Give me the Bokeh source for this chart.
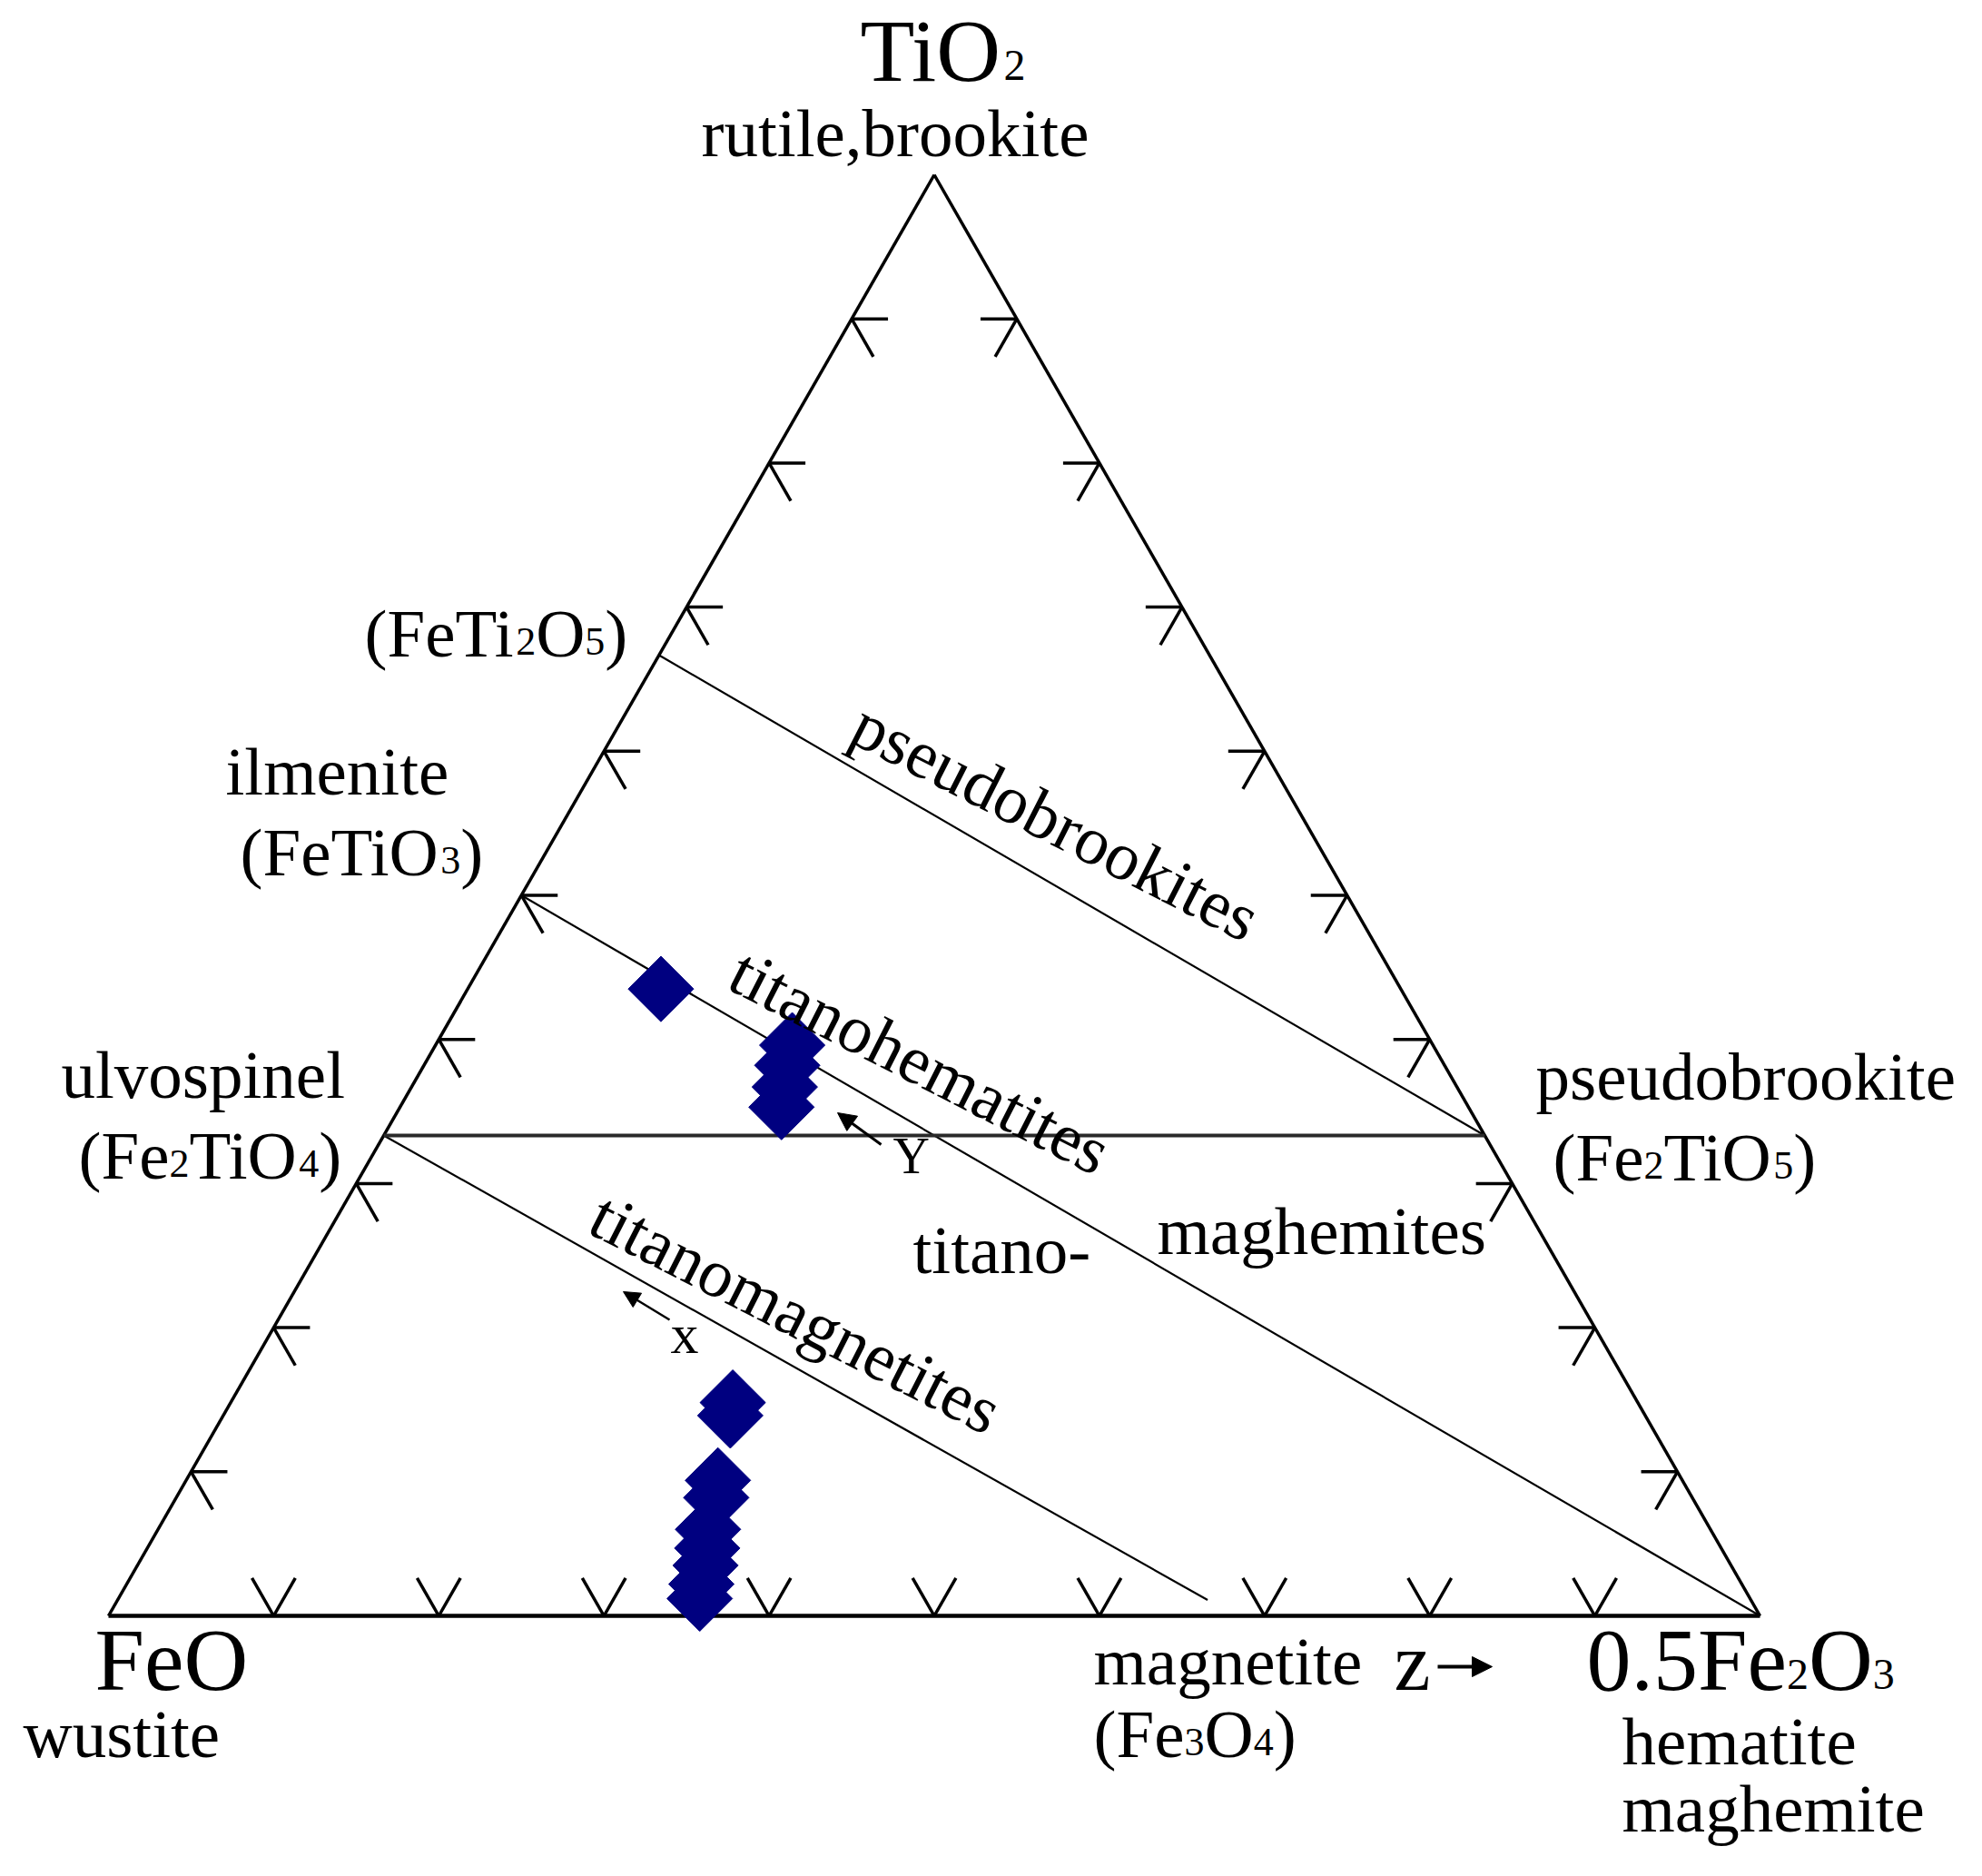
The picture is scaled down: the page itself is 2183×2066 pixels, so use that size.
import math
from bokeh.plotting import figure
from bokeh.models import Range1d, Arrow, NormalHead, ColumnDataSource
from bokeh.core.properties import value
from bokeh.embed import file_html
from bokeh.resources import INLINE

# ---------------- data (mole fractions) ----------------
# samples: TiO2 fraction and 0.5Fe2O3 (FeO1.5) fraction; FeO is the remainder
sample_tio2 = [0.435, 0.396, 0.382, 0.367, 0.353,
               0.148, 0.139, 0.094, 0.082, 0.060, 0.047, 0.035, 0.022, 0.012]
sample_fe2o3 = [0.117, 0.216, 0.220, 0.226, 0.231,
                0.304, 0.307, 0.322, 0.327, 0.333, 0.339, 0.344, 0.348, 0.352]

tick_fracs = [0.1, 0.2, 0.3, 0.4, 0.5, 0.6, 0.7, 0.8, 0.9]

# end-member phases (TiO2, 0.5Fe2O3)
phase_names = ["FeTi2O5", "FeTiO3", "Fe2TiO4", "Fe2TiO5", "Fe3O4", "Fe2O3"]
phase_tio2 = [2 / 3, 1 / 2, 1 / 3, 1 / 3, 0.0, 0.0]
phase_fe2o3 = [0.0, 0.0, 0.0, 2 / 3, 2 / 3, 1.0]
# titanomagnetite join drawn to just short of magnetite
tmag_end_tio2, tmag_end_fe2o3 = 0.011, 0.660

# ---------------- layout (page pixels) ----------------
W, H = 2170, 2052
X0, X1, YB, YT = 119.0, 1938.0, 1779.0, 192.0
XA = (X0 + X1) / 2


def tern(tio2, fe2o3):
    px = X0 + (fe2o3 + tio2 / 2) * (X1 - X0)
    py = YB - tio2 * (YB - YT)
    return px, py


def ph(name):
    i = phase_names.index(name)
    return tern(phase_tio2[i], phase_fe2o3[i])


p = figure(width=W, height=H, output_backend="svg", toolbar_location=None,
           x_range=Range1d(0, W), y_range=Range1d(-H, 0),
           x_axis_type=None, y_axis_type=None, min_border=0,
           min_border_left=0, min_border_right=0, min_border_top=0, min_border_bottom=0)
p.outline_line_color = None
p.background_fill_color = "white"
p.border_fill_color = "white"

# triangle edges
A = (X0, YB); B = (X1, YB); C = (XA, YT)
p.line([A[0], C[0]], [-A[1], -C[1]], line_color="black", line_width=3.5)
p.line([C[0], B[0]], [-C[1], -B[1]], line_color="black", line_width=3.5)
p.line([A[0], B[0]], [-A[1], -B[1]], line_color="black", line_width=4.5)

# ticks
def unit(dx, dy):
    n = math.hypot(dx, dy)
    return dx / n, dy / n

urd = unit(X1 - XA, YB - YT)   # along right edge, downward
uld = unit(X0 - XA, YB - YT)   # along left edge, downward
LD, LH = 48.0, 40.0
txs, tys = [], []
for f in tick_fracs:
    # left edge (TiO2 fraction)
    px, py = tern(f, 0.0)
    txs += [[px, px + LH], [px, px + LD * urd[0]]]
    tys += [[-py, -py], [-py, -(py + LD * urd[1])]]
    # right edge
    px, py = tern(f, 1 - f)
    txs += [[px, px - LH], [px, px + LD * uld[0]]]
    tys += [[-py, -py], [-py, -(py + LD * uld[1])]]
    # base
    px, py = tern(0.0, f)
    txs += [[px, px - LD * urd[0]], [px, px - LD * uld[0]]]
    tys += [[-py, -(py - LD * urd[1])], [-py, -(py - LD * uld[1])]]
p.multi_line(txs, tys, line_color="black", line_width=3.5)

# solid-solution joins
joins = [
    (ph("FeTi2O5"), ph("Fe2TiO5"), 2.2, "black"),
    (ph("FeTiO3"), ph("Fe2O3"), 2.2, "black"),
    (ph("Fe2TiO4"), tern(tmag_end_tio2, tmag_end_fe2o3), 2.2, "black"),
    (ph("Fe2TiO4"), ph("Fe2TiO5"), 4.0, "#2a2a2a"),
]
for (a, b, lw, col) in joins:
    p.line([a[0], b[0]], [-a[1], -b[1]], line_color=col, line_width=lw)

# samples
sx, sy = [], []
for t, f in zip(sample_tio2, sample_fe2o3):
    px, py = tern(t, f)
    sx.append(px); sy.append(-py)
p.scatter(sx, sy, marker="square", size=51, angle=math.pi / 4,
          fill_color="#000080", line_color="#000080", line_width=1)

# ---------------- text ----------------
TW = {' ': 250, '(': 333, ')': 333, '.': 250, ',': 250, '-': 333}
for d in "0123456789":
    TW[d] = 500
TW.update({'A': 722, 'B': 667, 'C': 667, 'D': 722, 'E': 611, 'F': 556, 'G': 722, 'H': 722,
           'I': 333, 'J': 389, 'K': 722, 'L': 611, 'M': 889, 'N': 722, 'O': 722, 'P': 556,
           'Q': 722, 'R': 667, 'S': 556, 'T': 611, 'U': 722, 'V': 722, 'W': 944, 'X': 722,
           'Y': 722, 'Z': 611,
           'a': 444, 'b': 500, 'c': 444, 'd': 500, 'e': 444, 'f': 333, 'g': 500, 'h': 500,
           'i': 278, 'j': 278, 'k': 500, 'l': 278, 'm': 778, 'n': 500, 'o': 500, 'p': 500,
           'q': 500, 'r': 333, 's': 389, 't': 278, 'u': 500, 'v': 500, 'w': 722, 'x': 500,
           'y': 500, 'z': 444})


def tw(s, size):
    return sum(TW.get(ch, 500) for ch in s) * size / 1000.0


K = 0.31  # baseline correction (fraction of font size)
M, BIG, SUB, BSUB = 75, 98, 44, 48
labels = [
    ([("TiO", BIG), ("2", BSUB)], 947, 86),
    ([("rutile,brookite", M)], 772, 169),
    ([("(FeTi", M), ("2", SUB), ("O", M), ("5", SUB), (")", M)], 401, 720),
    ([("ilmenite", M)], 248, 872),
    ([("(FeTiO", M), ("3", SUB), (")", M)], 264, 961),
    ([("ulvospinel", M)], 67, 1206),
    ([("(Fe", M), ("2", SUB), ("TiO", M), ("4", SUB), (")", M)], 86, 1295),
    ([("pseudobrookite", M)], 1691, 1208),
    ([("(Fe", M), ("2", SUB), ("TiO", M), ("5", SUB), (")", M)], 1710, 1297),
    ([("FeO", BIG)], 104, 1858),
    ([("wustite", M)], 25, 1932),
    ([("0.5Fe", BIG), ("2", BSUB), ("O", BIG), ("3", BSUB)], 1747, 1858),
    ([("hematite", M)], 1786, 1940),
    ([("maghemite", M)], 1786, 2014),
    ([("magnetite", M)], 1204, 1852),
    ([("(Fe", M), ("3", SUB), ("O", M), ("4", SUB), (")", M)], 1204, 1932),
    ([("z", 90)], 1535, 1858),
    ([("titano-", M)], 1005, 1399),
    ([("maghemites", M)], 1274, 1378),
    ([("Y", 56)], 983, 1290),
    ([("x", 62)], 738, 1488),
]

tx, ty, tt, ts, ta = [], [], [], [], []
for segs, x0, base in labels:
    cx = x0
    for s, size in segs:
        tx.append(cx); ty.append(-(base - K * size)); tt.append(s)
        ts.append(f"{size}px"); ta.append(0.0)
        cx += tw(s, size)

# rotated labels along the joins (text tilted slightly less than the join)
rot = [
    ("pseudobrookites", ph("FeTi2O5"), ph("Fe2TiO5"), 934, 33.0, 16.0),
    ("titanohematites", ph("FeTiO3"), ph("Fe2O3"), 797, 34.0, 14.0),
    ("titanomagnetites", ph("Fe2TiO4"), tern(tmag_end_tio2, tmag_end_fe2o3), 644, 24.0, 10.0),
]
TEXT_TILT = math.radians(27.0)
for s, a, b, startx, off, shift in rot:
    th = math.atan2(b[1] - a[1], b[0] - a[0])
    ly = a[1] + (startx - a[0]) * math.tan(th)
    d = off + K * M
    ax = startx + d * math.sin(TEXT_TILT) - shift
    ay = ly - d * math.cos(TEXT_TILT)
    tx.append(ax); ty.append(-ay); tt.append(s); ts.append(f"{M}px"); ta.append(-TEXT_TILT)

src = ColumnDataSource(dict(x=tx, y=ty, text=tt, size=ts, angle=ta))
p.text(x="x", y="y", text="text", angle="angle", text_font_size="size", source=src,
       text_font=value("Liberation Serif"), text_color="black",
       text_align="left", text_baseline="alphabetic")

# arrows for x, Y, z
arrows = [((970, 1260), (922, 1225), 3.0, 20),
          ((737, 1453), (686, 1422), 2.5, 18),
          ((1583, 1835), (1643, 1835), 4.0, 22)]
for (s0, e0, lw, hs) in arrows:
    p.add_layout(Arrow(x_start=s0[0], y_start=-s0[1], x_end=e0[0], y_end=-e0[1],
                       line_width=lw, line_color="black",
                       end=NormalHead(size=hs, fill_color="black", line_color="black")))

open("out.html", "w").write(file_html(p, INLINE))
